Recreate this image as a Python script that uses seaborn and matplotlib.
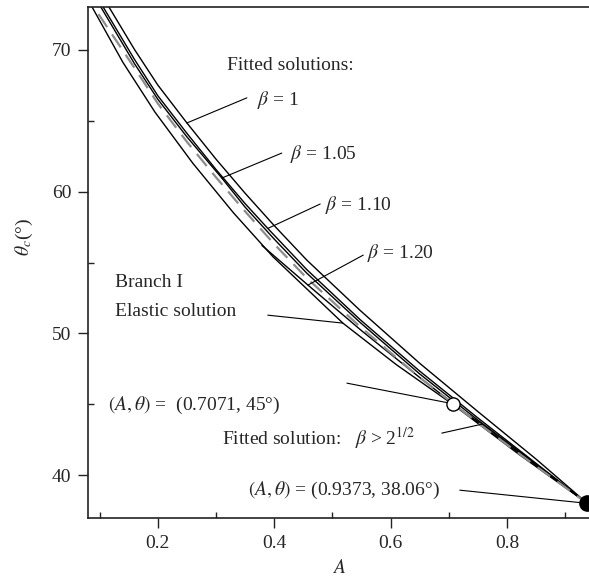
import matplotlib
matplotlib.use("Agg")
import matplotlib.pyplot as plt
import numpy as np
import pandas as pd
import seaborn as sns

# curve data (A, theta_c in degrees)
beta_1_A = [0.116, 0.16, 0.20, 0.25, 0.30, 0.35, 0.40, 0.456, 0.547, 0.65, 0.75, 0.85, 0.9373]
beta_1_T = [73.0, 70.0, 67.5, 64.83, 62.28, 59.88, 57.6, 55.17, 51.65, 47.9, 44.5, 41.15, 38.06]

beta_105_A = [0.102, 0.16, 0.20, 0.25, 0.31, 0.35, 0.40, 0.456, 0.547, 0.65, 0.75, 0.85, 0.9373]
beta_105_T = [73.0, 69.0, 66.5, 63.85, 60.95, 58.9, 56.65, 54.25, 50.8, 47.15, 43.9, 40.78, 38.06]

beta_110_A = [0.106, 0.16, 0.20, 0.25, 0.30, 0.35, 0.389, 0.456, 0.547, 0.65, 0.75, 0.85, 0.9373]
beta_110_T = [73.0, 69.3, 66.75, 64.1, 61.55, 59.15, 57.4, 54.5, 51.0, 47.35, 44.05, 40.85, 38.06]

beta_120_A = [0.379, 0.458, 0.55, 0.65, 0.75, 0.85, 0.9373]
beta_120_T = [56.2, 53.41, 50.2, 46.9, 43.7, 40.7, 38.06]

dashed_A = [0.098, 0.16, 0.20, 0.25, 0.30, 0.35, 0.40, 0.456, 0.547, 0.65, 0.75, 0.85, 0.9373]
dashed_T = [72.5, 68.7, 66.2, 63.5, 61.0, 58.6, 56.3, 53.9, 50.5, 46.9, 43.7, 40.65, 38.06]

elastic_A = [0.087, 0.14, 0.195, 0.26, 0.33, 0.398, 0.518, 0.61, 0.7071, 0.82, 0.9373]
elastic_T = [73.0, 69.1, 65.6, 62.0, 58.5, 55.4, 50.73, 47.8, 45.0, 41.5, 38.06]

root2_A = [0.7071, 0.757, 0.82, 0.88, 0.9373]
root2_T = [45.0, 43.61, 41.7, 39.85, 38.06]

branch_point = (0.7071, 45.0)
end_point = (0.9373, 38.06)

sns.set_theme(style="ticks")
plt.rcParams["font.family"] = ["Liberation Serif", "DejaVu Serif"]
plt.rcParams["mathtext.fontset"] = "stix"

fig = plt.figure(figsize=(5.89, 5.82), dpi=100)
ax = fig.add_axes([88 / 589, 1 - 518 / 582, 1 - 88 / 589, (518 - 7) / 582])

solid = [
    (beta_1_A, beta_1_T),
    (beta_105_A, beta_105_T),
    (beta_110_A, beta_110_T),
    (beta_120_A, beta_120_T),
    (elastic_A, elastic_T),
    (root2_A, root2_T),
]
for xs, ys in solid:
    sns.lineplot(x=xs, y=ys, sort=False, estimator=None, color="black", lw=1.0, ax=ax)

sns.lineplot(x=dashed_A, y=dashed_T, sort=False, estimator=None, color="#8c8c8c",
             lw=1.6, ax=ax, dashes=False, linestyle=(0, (7, 4)))

ax.plot(*branch_point, "o", ms=9.5, mfc="white", mec="black", mew=1.0, zorder=5)
ax.plot(*end_point, "o", ms=11, color="black", zorder=5, clip_on=False)

fs = 14
ax.text(0.319, 68.9, "Fitted solutions:", fontsize=fs, va="center")
ax.text(0.370, 66.45, r"$\beta$ = 1", fontsize=fs, va="center")
ax.text(0.427, 62.64, r"$\beta$ = 1.05", fontsize=fs, va="center")
ax.text(0.487, 59.05, r"$\beta$ = 1.10", fontsize=fs, va="center")
ax.text(0.559, 55.66, r"$\beta$ = 1.20", fontsize=fs, va="center")
ax.text(0.126, 53.62, "Branch I", fontsize=fs, va="center")
ax.text(0.126, 51.58, "Elastic solution", fontsize=fs, va="center")
ax.text(0.114, 44.95, r"$(A,\theta)$ =  (0.7071, 45°)", fontsize=fs, va="center")
ax.text(0.310, 42.63, r"Fitted solution:   $\beta$ > 2$^{1/2}$", fontsize=fs, va="center")
ax.text(0.355, 38.96, r"$(A,\theta)$ = (0.9373, 38.06°)", fontsize=fs, va="center")

leaders = [
    ((0.353, 0.250), (66.6, 64.83)),
    ((0.413, 0.310), (62.71, 60.95)),
    ((0.479, 0.389), (59.12, 57.4)),
    ((0.553, 0.458), (55.52, 53.41)),
    ((0.389, 0.518), (51.29, 50.73)),
    ((0.525, 0.702), (46.5, 45.09)),
    ((0.688, 0.757), (42.98, 43.61)),
    ((0.719, 0.934), (38.96, 38.05)),
]
for xs, ys in leaders:
    ax.plot(xs, ys, color="black", lw=0.8)

ax.set_xlim(0.08, 0.941)
ax.set_ylim(37.0, 73.0)
ax.set_xticks([0.2, 0.4, 0.6, 0.8])
ax.set_xticklabels(["0.2", "0.4", "0.6", "0.8"])
ax.set_xticks([0.1, 0.3, 0.5, 0.7, 0.9], minor=True)
ax.set_yticks([40, 50, 60, 70])
ax.set_yticks([45, 55, 65], minor=True)
ax.tick_params(which="major", direction="out", length=7, width=1.0, pad=5,
               labelsize=fs, color="#222222")
ax.tick_params(which="minor", direction="in", length=4, width=1.0, color="#222222")
ax.set_xlabel("$A$", fontsize=fs, labelpad=5)
ax.set_ylabel(r"$\theta_c$(°)", fontsize=fs)
ax.yaxis.set_label_coords(-0.105, 0.55)
for side in ["left", "bottom", "top"]:
    ax.spines[side].set_color("#222222")
    ax.spines[side].set_linewidth(1.2)
ax.spines["right"].set_visible(False)

fig.savefig("out.png", dpi=100)
